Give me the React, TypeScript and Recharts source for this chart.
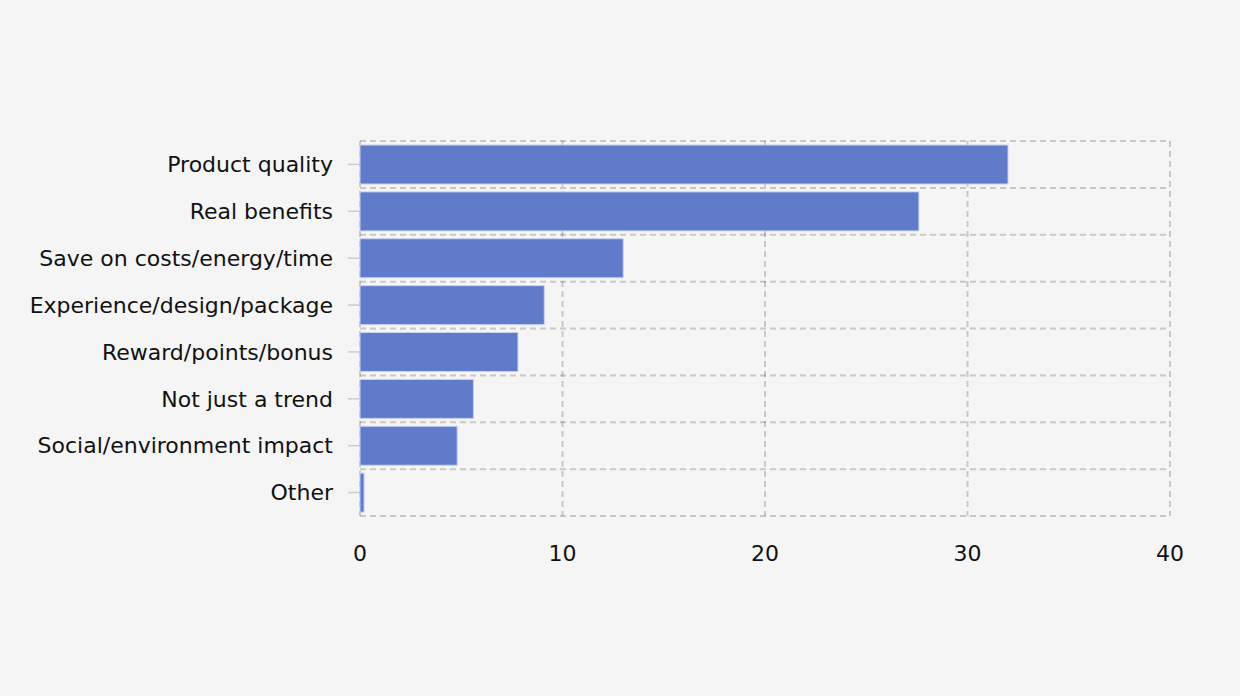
import React from 'react';
import { BarChart, Bar, XAxis, YAxis, CartesianGrid } from 'recharts';

// Reasons (top to bottom) and their share
const categories = [
  'Product quality',
  'Real benefits',
  'Save on costs/energy/time',
  'Experience/design/package',
  'Reward/points/bonus',
  'Not just a trend',
  'Social/environment impact',
  'Other',
];
const values = [32, 27.6, 13, 9.1, 7.8, 5.6, 4.8, 0.2];
const xTicks = [0, 10, 20, 30, 40];

const data = categories.map((name, i) => ({ name, value: values[i] }));

const FONT = '"DejaVu Sans", Verdana, sans-serif';

export default function App() {
  return (
    <div
      style={{
        position: 'fixed',
        top: 0,
        left: 0,
        width: 1240,
        height: 696,
        background: '#f5f5f5',
        fontFamily: FONT,
      }}
    >
      <BarChart
        width={1240}
        height={696}
        data={data}
        layout="vertical"
        margin={{ top: 141, right: 70, bottom: 120, left: 0 }}
        barCategoryGap={4}
      >
        <XAxis
          type="number"
          domain={[0, 40]}
          ticks={xTicks}
          axisLine={false}
          tickLine={false}
          tickSize={0}
          tickMargin={29}
          height={60}
          tick={{ fill: '#111', fontSize: 22, fontFamily: FONT }}
        />
        <YAxis
          type="category"
          dataKey="name"
          width={360}
          axisLine={false}
          tickSize={12}
          tickMargin={15}
          tickLine={{ stroke: '#cccccc', strokeWidth: 1.5 }}
          tick={{ fill: '#111', fontSize: 22, fontFamily: FONT }}
          interval={0}
        />
        <Bar
          dataKey="value"
          fill="#5f7bca"
          stroke="#c9d1ef"
          strokeWidth={1}
          isAnimationActive={false}
        />
        {/* grid sits on top of the bars, dashed and see-through */}
        <CartesianGrid
          stroke="#000"
          strokeOpacity={0.18}
          strokeWidth={2}
          strokeDasharray="6 4"
          horizontalCoordinatesGenerator={({ offset }: any) =>
            categories
              .map((_, i) => offset.top + (i * offset.height) / categories.length)
              .concat(offset.top + offset.height)
          }
        />
      </BarChart>
    </div>
  );
}
